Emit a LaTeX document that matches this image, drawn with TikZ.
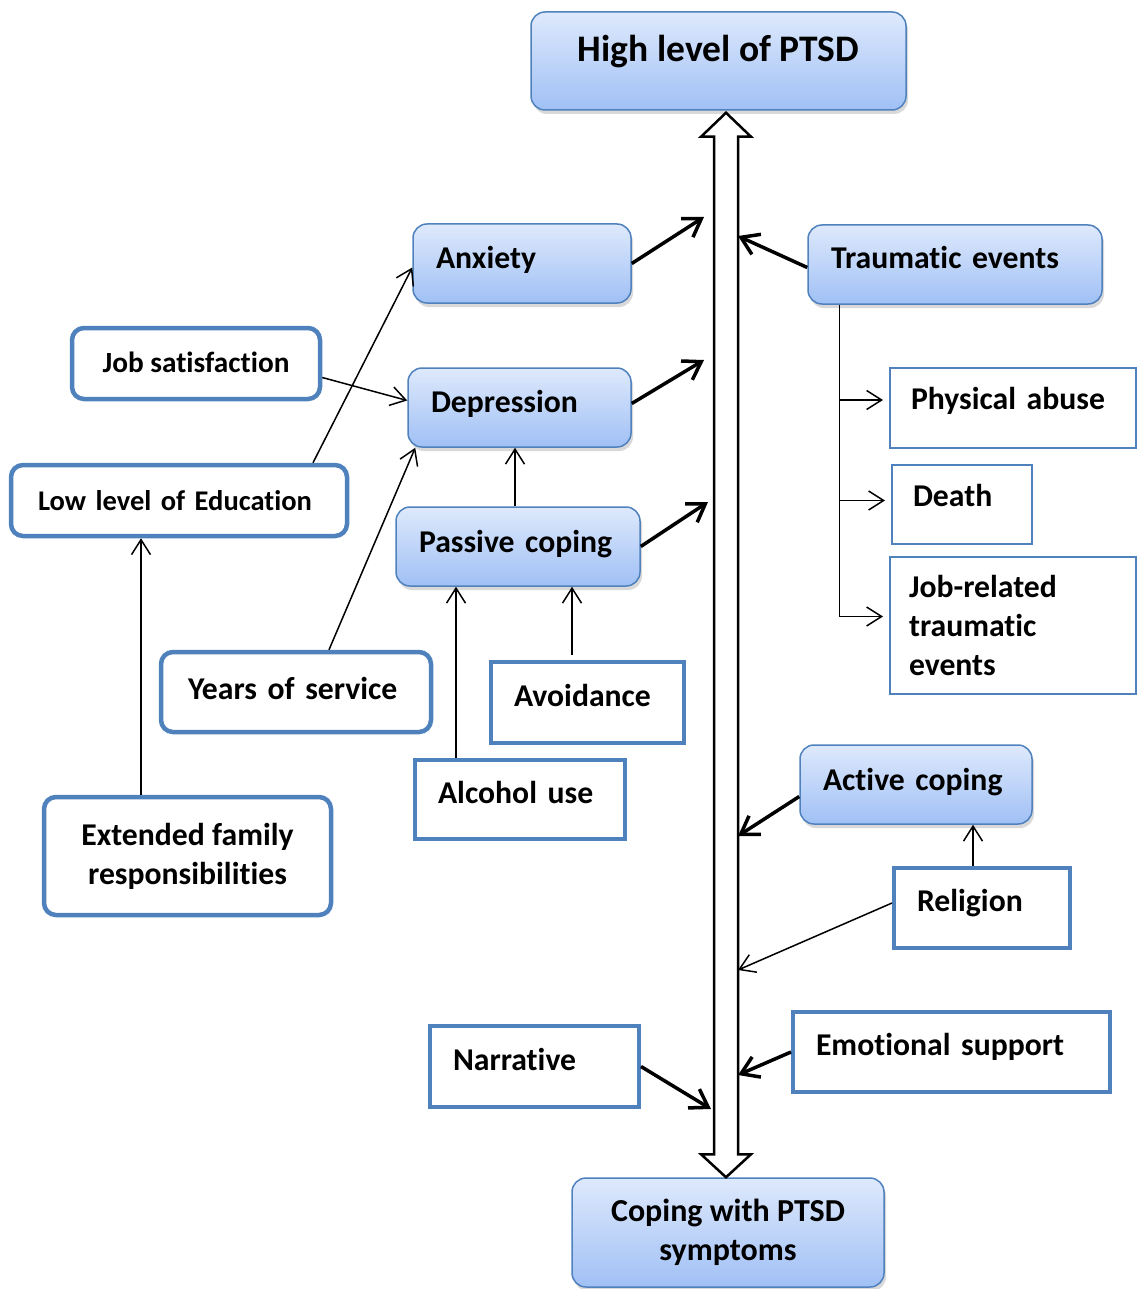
\documentclass[tikz,border=0pt]{standalone}
\usepackage{fontspec}
\setmainfont{Carlito}[Ligatures=NoCommon]
\usetikzlibrary{arrows.meta,calc,shadows}

\definecolor{boxblue}{RGB}{79,129,189}
\definecolor{gradtop}{RGB}{222,233,252}
\definecolor{gradbot}{RGB}{160,192,245}

\begin{document}
\begin{tikzpicture}[
	x=1pt, y=-1pt,
	every node/.style={font=\bfseries\fontsize{31.7}{39}\selectfont},
	bluebox/.style={rectangle, rounded corners=14pt, draw=boxblue, line width=1.5pt, top color=gradtop, bottom color=gradbot, drop shadow={opacity=0.3, shadow xshift=2pt, shadow yshift=-4pt}},
	roundbox/.style={rectangle, rounded corners=12pt, draw=boxblue, line width=4.5pt, fill=white},
	squarebox/.style={rectangle, draw=boxblue, line width=4pt, fill=white},
	thinbox/.style={rectangle, draw=boxblue, line width=2pt, fill=white},
	lefttext/.style={align=left, inner xsep=23pt},
	oneline/.style={text height=20pt, text depth=#1},
	oneline/.default=0pt,
	bigarrow/.style={line width=3.5pt, -{Straight Barb[length=17pt, width=22pt]}},
	smallarrow/.style={line width=1.5pt, -{Straight Barb[length=15pt, width=19pt]}},
	spine/.style={line width=2.5pt, fill=white, line join=miter}
	]
	\useasboundingbox (0,0) rectangle (1137,1289);
	%Nodes
	\node[bluebox, minimum width=375pt, minimum height=98pt, font=\bfseries\fontsize{37.5}{44}\selectfont, text height=23pt, text depth=21pt] (high) at (718.5,61) {High level of PTSD};
	\node[bluebox, lefttext, text width=172pt, minimum height=79pt, oneline=10pt] (anx) at (522,263.5) {Anxiety};
	\node[bluebox, lefttext, text width=177pt, minimum height=79pt, oneline=10pt] (dep) at (519.5,407.5) {Depression};
	\node[bluebox, lefttext, text width=198pt, minimum height=79pt, oneline=9pt] (pas) at (518,546.5) {Passive coping};
	\node[bluebox, lefttext, text width=248pt, minimum height=79pt, oneline=11pt] (trau) at (955,264.5) {Traumatic events};
	\node[bluebox, lefttext, text width=186pt, minimum height=79pt, oneline=8pt] (act) at (916,784.5) {Active coping};
	\node[bluebox, minimum width=312pt, minimum height=109pt, align=center, font=\bfseries\fontsize{32}{39}\selectfont] (cope) at (728,1232.5) {Coping with PTSD\\symptoms};

	\node[roundbox, minimum width=248pt, minimum height=71pt, oneline=2pt, font=\bfseries\fontsize{29.3}{36}\selectfont] (jobsat) at (196,363.5) {Job satisfaction};
	\node[roundbox, lefttext, inner xsep=27pt, text width=282pt, minimum height=71pt, oneline, font=\bfseries\fontsize{28.5}{36}\selectfont] (low) at (179,500.5) {Low level of Education};
	\node[roundbox, lefttext, inner xsep=27pt, text width=216pt, minimum height=80pt, oneline=6pt] (years) at (296,692) {Years of service};
	\node[roundbox, minimum width=287pt, minimum height=118pt, align=center] (ext) at (187.5,856) {Extended family\\responsibilities};

	\node[thinbox, lefttext, inner xsep=21pt, text width=204pt, minimum height=80pt, oneline=17pt] (phys) at (1013,408) {Physical abuse};
	\node[thinbox, lefttext, inner xsep=21pt, text width=98pt, minimum height=79pt, oneline=16pt] (death) at (962,504.5) {Death};
	\node[thinbox, lefttext, inner xsep=19pt, text width=208pt, minimum height=137pt] (jobrel) at (1013,625.5) {Job-related\\traumatic\\events};
	\node[squarebox, lefttext, text width=147pt, minimum height=81pt, oneline=13pt] (avoid) at (587.5,702.5) {Avoidance};
	\node[squarebox, lefttext, text width=164pt, minimum height=79pt, oneline=13pt] (alc) at (520,799.5) {Alcohol use};
	\node[squarebox, lefttext, text width=130pt, minimum height=80pt, oneline=14pt] (rel) at (982,908) {Religion};
	\node[squarebox, lefttext, text width=271pt, minimum height=80pt, oneline=13pt] (emo) at (951.5,1052) {Emotional support};
	\node[squarebox, lefttext, text width=163pt, minimum height=81pt, oneline=13pt] (narr) at (534.5,1066.5) {Narrative};

	%Spine between the two outcomes
	\coordinate (uptip) at ([xshift=7.5pt,yshift=-2pt]high.south);
	\coordinate (downtip) at ([xshift=-2pt]cope.north);
	\draw[spine] (uptip) -- ++(25,24) -- ++(-13,0) -- ($(downtip)+(12,-23)$) -- ++(13,0) -- (downtip) -- ++(-25,-23) -- ++(13,0) -- ($(uptip)+(-12,24)$) -- ++(-13,0) -- cycle;

	%Ends on the spine
	\coordinate (anxend) at (704,217);
	\coordinate (depend) at (704,360);
	\coordinate (pasend) at (708,502);
	\coordinate (narrend) at (711,1109);
	\coordinate (trauend) at (738,236);
	\coordinate (actend) at (738,836);
	\coordinate (relend) at (738,970);
	\coordinate (emoend) at (738,1075);

	%Lines
	\draw[bigarrow] (anx.east) -- (anxend);
	\draw[bigarrow] ([yshift=4pt]dep.east) -- (depend);
	\draw[bigarrow] (pas.east) -- (pasend);
	\draw[bigarrow] ([yshift=-3pt]trau.west) -- (trauend);
	\draw[bigarrow] ([yshift=-12pt]act.west) -- (actend);
	\draw[bigarrow] (emo.west) -- (emoend);
	\draw[bigarrow] (narr.east) -- (narrend);

	\draw[smallarrow] ([xshift=134pt]low.north) -- ([yshift=-4pt]anx.west);
	\draw[smallarrow] ([yshift=-14pt]jobsat.east) -- ([yshift=7pt]dep.west);
	\draw[smallarrow] ([xshift=33pt]years.north) -- ([xshift=8pt]dep.south west);
	\draw[smallarrow] ([xshift=-3pt]pas.north) -- ([xshift=-3pt]pas.north |- dep.south);
	\draw[smallarrow] ([xshift=-64pt]alc.north) -- ([xshift=-64pt]alc.north |- pas.south);
	\draw[smallarrow] ([xshift=-15.5pt,yshift=5pt]avoid.north) -- ([xshift=-15.5pt]avoid.north |- pas.south);
	\draw[smallarrow] ([xshift=-46.5pt]ext.north) -- ([xshift=-46.5pt]ext.north |- low.south);

	\coordinate (trunk) at ([xshift=32pt]trau.south west);
	\draw[smallarrow] (trunk) |- ([xshift=-6pt,yshift=9pt]jobrel.west);
	\draw[smallarrow] ([yshift=8pt]phys.west -| trunk) -- ([xshift=-6pt,yshift=8pt]phys.west);
	\draw[smallarrow] ([yshift=4pt]death.west -| trunk) -- ([xshift=-6pt,yshift=4pt]death.west);

	\draw[smallarrow] ([xshift=-9pt]rel.north) -- ([xshift=-9pt]rel.north |- act.south);
	\draw[smallarrow] ([yshift=5pt]rel.west) -- (relend);
\end{tikzpicture}
\end{document}
